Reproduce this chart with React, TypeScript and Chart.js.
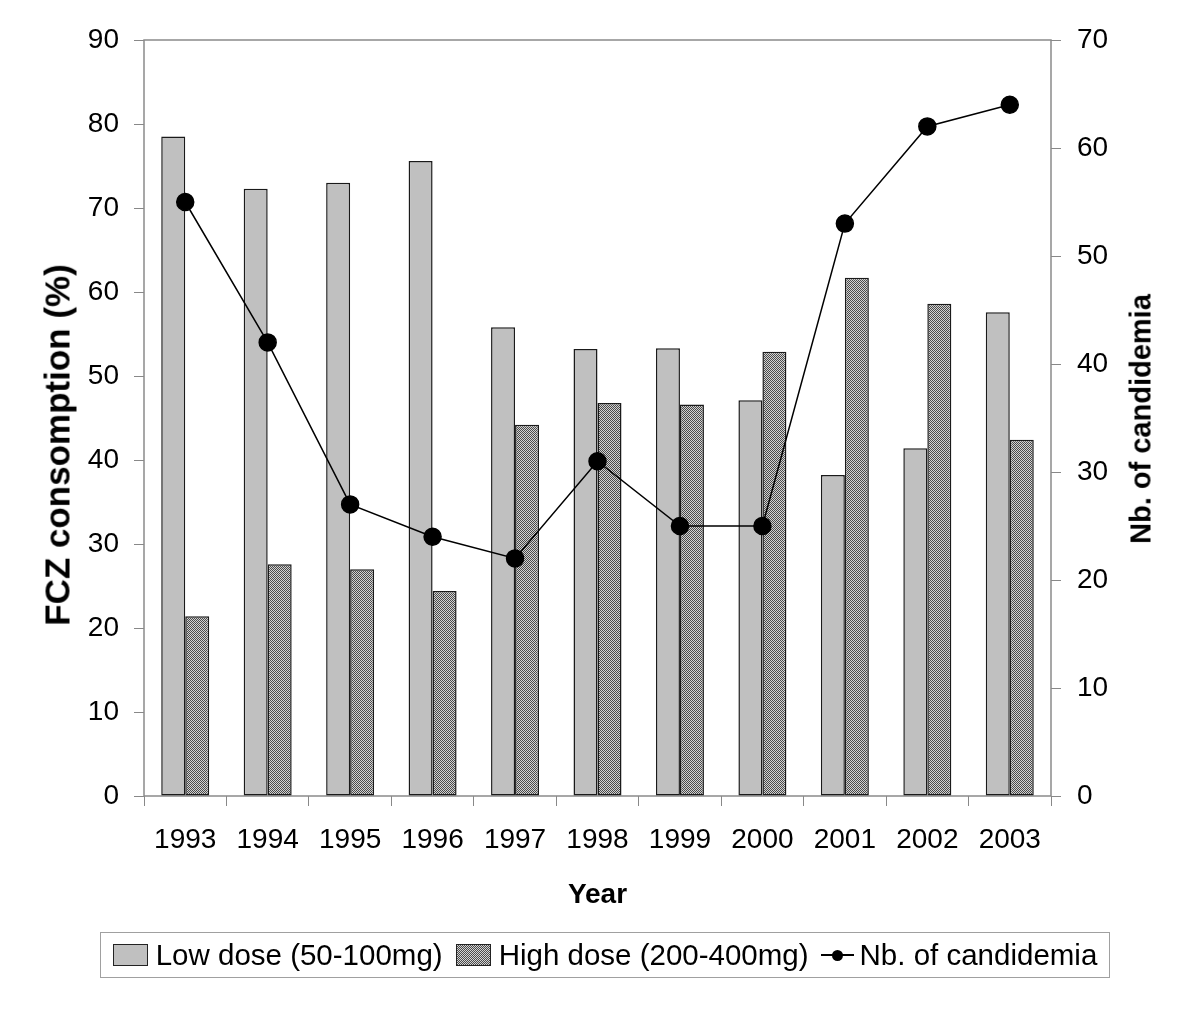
import React, { useEffect, useRef } from "react";
import { Chart, registerables } from "chart.js";

Chart.register(...registerables);

const years = ["1993", "1994", "1995", "1996", "1997", "1998", "1999", "2000", "2001", "2002", "2003"];
const lowDose = [78.5, 72.3, 73.0, 75.6, 55.8, 53.2, 53.3, 47.1, 38.2, 41.4, 57.6];
const highDose = [21.4, 27.6, 27.0, 24.4, 44.2, 46.8, 46.6, 52.9, 61.7, 58.6, 42.4];
const candidemia = [55, 42, 27, 24, 22, 31, 25, 25, 53, 62, 64];

const labelLow = "Low dose (50-100mg)";
const labelHigh = "High dose (200-400mg)";
const labelLine = "Nb. of candidemia";
const titleLeft = "FCZ consomption (%)";
const titleRight = "Nb. of candidemia";
const titleX = "Year";

const FONT = "'Liberation Sans', Arial, sans-serif";

export default function App() {
  const ref = useRef<HTMLCanvasElement>(null);

  useEffect(() => {
    const canvas = ref.current!;
    const pc = document.createElement("canvas");
    pc.width = 2;
    pc.height = 2;
    const pctx = pc.getContext("2d")!;
    pctx.fillStyle = "#d2d2d2";
    pctx.fillRect(0, 0, 2, 2);
    pctx.fillStyle = "#4a4a4a";
    pctx.fillRect(0, 0, 1, 1);
    pctx.fillRect(1, 1, 1, 1);
    const pattern = canvas.getContext("2d")!.createPattern(pc, "repeat")!;

    const frame = {
      id: "frame",
      beforeDatasetsDraw(chart: any) {
        const { left, top, right, bottom } = chart.chartArea;
        const ctx = chart.ctx;
        ctx.save();
        ctx.strokeStyle = "#8a8a8a";
        ctx.lineWidth = 1.5;
        ctx.strokeRect(left, top, right - left, bottom - top);
        ctx.restore();
      },
    };

    const tickFont = { family: FONT, size: 28 };

    const chart = new Chart(canvas, {
      type: "bar",
      data: {
        labels: years,
        datasets: [
          {
            type: "bar",
            label: labelLow,
            data: lowDose,
            backgroundColor: "#c0c0c0",
            borderColor: "#1a1a1a",
            borderWidth: 1.5,
            borderSkipped: false,
            yAxisID: "y",
            order: 1,
            categoryPercentage: 0.582,
            barPercentage: 1,
          },
          {
            type: "bar",
            label: labelHigh,
            data: highDose,
            backgroundColor: pattern,
            borderColor: "#1a1a1a",
            borderWidth: 1.5,
            borderSkipped: false,
            yAxisID: "y",
            order: 1,
            categoryPercentage: 0.582,
            barPercentage: 1,
          },
          {
            type: "line",
            label: labelLine,
            data: candidemia,
            yAxisID: "y1",
            borderColor: "#000",
            borderWidth: 1.5,
            pointRadius: 8.5,
            pointHoverRadius: 8.5,
            pointBackgroundColor: "#000",
            pointBorderColor: "#000",
            fill: false,
            tension: 0,
            order: 0,
          },
        ],
      } as any,
      options: {
        responsive: false,
        animation: false,
        devicePixelRatio: 1,
        layout: { padding: { top: 40, left: 0, right: 0, bottom: 0 } },
        plugins: { legend: { display: false }, tooltip: { enabled: false } },
        scales: {
          x: {
            grid: {
              display: true,
              drawOnChartArea: false,
              drawTicks: true,
              tickLength: 10,
              color: "#888",
              offset: true,
            },
            border: { display: false },
            ticks: { font: tickFont, color: "#000", padding: 17, maxRotation: 0, autoSkip: false },
            afterFit(s: any) {
              s.height = 214;
            },
            title: {
              display: true,
              text: titleX,
              color: "#000",
              font: { family: FONT, size: 28, weight: "bold" },
              padding: { top: 0, bottom: 98 },
            },
          },
          y: {
            position: "left",
            min: 0,
            max: 90,
            ticks: { stepSize: 10, padding: 15, font: tickFont, color: "#000" },
            grid: { drawOnChartArea: false, drawTicks: true, tickLength: 10, color: "#888" },
            border: { display: false },
            afterFit(s: any) {
              s.width = 144;
            },
          },
          y1: {
            position: "right",
            min: 0,
            max: 70,
            ticks: { stepSize: 10, padding: 16, font: tickFont, color: "#000" },
            grid: { drawOnChartArea: false, drawTicks: true, tickLength: 10, color: "#888" },
            border: { display: false },
            afterFit(s: any) {
              s.width = 149;
            },
          },
        },
      } as any,
      plugins: [frame],
    });

    return () => chart.destroy();
  }, []);

  const rotated = (cx: number, cy: number, size: number): React.CSSProperties => ({
    position: "absolute",
    left: cx,
    top: cy,
    transform: "translate(-50%, -50%) rotate(-90deg)",
    whiteSpace: "nowrap",
    fontFamily: FONT,
    fontWeight: "bold",
    fontSize: size,
    lineHeight: 1,
    color: "#000",
  });

  return (
    <div style={{ position: "absolute", left: 0, top: 0, width: 1200, height: 1010, background: "#fff" }}>
      <canvas ref={ref} width={1200} height={1010} style={{ position: "absolute", left: 0, top: 0 }} />
      <div style={rotated(57, 445, 35)}>{titleLeft}</div>
      <div style={rotated(1141, 419, 29)}>{titleRight}</div>
      <div
        style={{
          position: "absolute",
          left: 100,
          top: 932,
          width: 1010,
          height: 46,
          boxSizing: "border-box",
          border: "1.5px solid #a0a0a0",
          display: "flex",
          alignItems: "center",
          justifyContent: "center",
          fontFamily: FONT,
          fontSize: 29.5,
          color: "#000",
          whiteSpace: "nowrap",
        }}
      >
        <span style={{ display: "inline-block", width: 35, height: 22, background: "#c0c0c0", border: "1.5px solid #222", boxSizing: "border-box", marginRight: 8 }} />
        <span style={{ marginRight: 13 }}>{labelLow}</span>
        <span
          style={{
            display: "inline-block",
            width: 35,
            height: 22,
            backgroundImage: "repeating-conic-gradient(#4a4a4a 0 25%, #d2d2d2 0 50%)",
            backgroundSize: "2px 2px",
            border: "1.5px solid #222",
            boxSizing: "border-box",
            marginRight: 8,
          }}
        />
        <span style={{ marginRight: 12 }}>{labelHigh}</span>
        <span style={{ position: "relative", display: "inline-block", width: 33, height: 20, marginRight: 6 }}>
          <span style={{ position: "absolute", left: 0, right: 0, top: 9, height: 1.5, background: "#000" }} />
          <span style={{ position: "absolute", left: 11, top: 4.5, width: 11, height: 11, borderRadius: "50%", background: "#000" }} />
        </span>
        <span>{labelLine}</span>
      </div>
    </div>
  );
}
